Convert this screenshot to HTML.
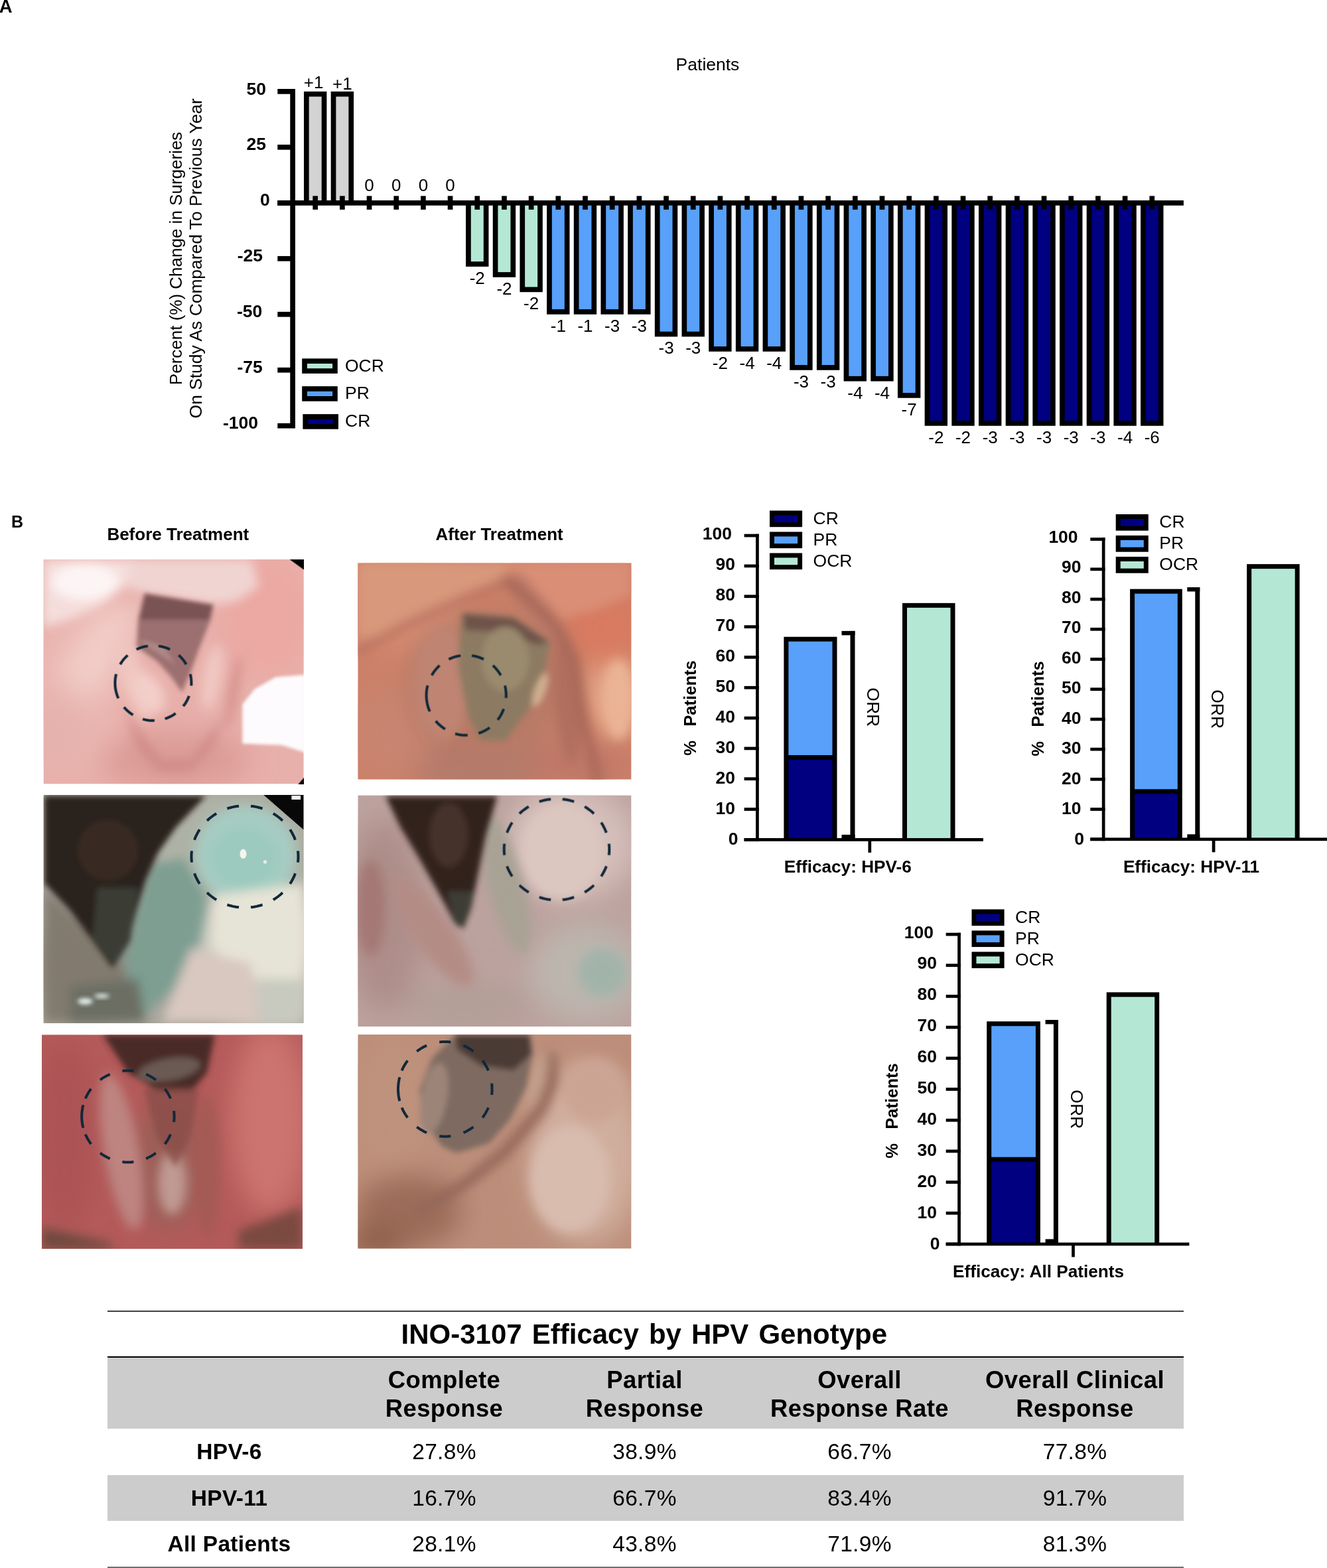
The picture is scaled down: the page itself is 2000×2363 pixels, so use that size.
<!DOCTYPE html>
<html><head><meta charset="utf-8"><style>
html,body{margin:0;padding:0;background:#fff;}
body{width:2000px;height:2363px;position:relative;overflow:hidden;font-family:"Liberation Sans", Arial, sans-serif;color:#000;}
svg{position:absolute;left:0;top:0;}
svg text{font-family:"Liberation Sans", Arial, sans-serif;fill:#000;}
.tl{position:absolute;left:162px;width:1622px;}
.tg{position:absolute;left:162px;width:1622px;background:#cccccc;}
.tt{position:absolute;font-weight:bold;font-size:42px;line-height:50px;white-space:nowrap;}
.th{position:absolute;width:400px;text-align:center;font-weight:bold;font-size:36.5px;line-height:43.7px;letter-spacing:0.4px;}
.td{position:absolute;width:400px;text-align:center;font-size:33.5px;line-height:69px;letter-spacing:0.3px;}
.td.b{font-weight:bold;}
</style></head><body>
<svg width="2000" height="2363" viewBox="0 0 2000 2363">
<defs>
<filter id="b2" x="-50%" y="-50%" width="200%" height="200%"><feGaussianBlur stdDeviation="2"/></filter>
<filter id="b3" x="-50%" y="-50%" width="200%" height="200%"><feGaussianBlur stdDeviation="3"/></filter>
<filter id="b4" x="-50%" y="-50%" width="200%" height="200%"><feGaussianBlur stdDeviation="4"/></filter>
<filter id="b5" x="-50%" y="-50%" width="200%" height="200%"><feGaussianBlur stdDeviation="5"/></filter>
<filter id="b8" x="-50%" y="-50%" width="200%" height="200%"><feGaussianBlur stdDeviation="8"/></filter>
<filter id="b12" x="-50%" y="-50%" width="200%" height="200%"><feGaussianBlur stdDeviation="12"/></filter>
<filter id="b20" x="-50%" y="-50%" width="200%" height="200%"><feGaussianBlur stdDeviation="20"/></filter>
<filter id="b30" x="-50%" y="-50%" width="200%" height="200%"><feGaussianBlur stdDeviation="30"/></filter>
<clipPath id="c0"><rect x="0" y="0" width="392.1" height="338.1"/></clipPath>
<clipPath id="c1"><rect x="0" y="0" width="412.0" height="326.2"/></clipPath>
<clipPath id="c2"><rect x="0" y="0" width="392.1" height="344.0"/></clipPath>
<clipPath id="c3"><rect x="0" y="0" width="412.0" height="348.6"/></clipPath>
<clipPath id="c4"><rect x="0" y="0" width="393.0" height="322.7"/></clipPath>
<clipPath id="c5"><rect x="0" y="0" width="412.0" height="322.3"/></clipPath>
</defs>
<g transform="translate(65.5,843.1)"><g clip-path="url(#c0)">
<rect x="0" y="0" width="400" height="400" fill="#e8b0ab"/>
<g filter="url(#b20)">
<ellipse cx="51.5" cy="177.2" rx="68.4" ry="136.7" fill="#eab6b0" />
<ellipse cx="336.3" cy="86.1" rx="68.4" ry="91.2" fill="#eca8a2" />
<ellipse cx="199.6" cy="302.6" rx="113.9" ry="45.6" fill="#dc9c97" />
<ellipse cx="81.1" cy="143.0" rx="38.7" ry="95.7" fill="#f2ccc8" transform="rotate(35 81.1 143.0)" />
<ellipse cx="28.7" cy="257.0" rx="34.2" ry="68.4" fill="#e6b2ad" />
</g>
<g filter="url(#b8)">
<polygon points="-0.9,-0.5 158.6,-0.5 122.1,40.5 85.7,70.1 40.1,90.6 -0.9,102.0" fill="#f4dedc" />
<ellipse cx="62.9" cy="33.6" rx="50.1" ry="27.3" fill="#fdf5f5" />
<polygon points="135.8,-0.5 313.6,-0.5 324.9,40.5 290.8,63.3 256.6,67.8 154.0,50.7 122.1,40.5" fill="#f0d4d2" />
<ellipse cx="254.3" cy="177.2" rx="13.7" ry="50.1" fill="#f0c8c2" transform="rotate(10 254.3 177.2)" />
<ellipse cx="286.2" cy="200.0" rx="6.8" ry="57.0" fill="#d68e8a" transform="rotate(10 286.2 200.0)" />
<ellipse cx="135.8" cy="181.8" rx="18.2" ry="63.8" fill="#f0c6c0" transform="rotate(-20 135.8 181.8)" />
<ellipse cx="158.6" cy="200.0" rx="20.5" ry="34.2" fill="#f3cdc8" transform="rotate(-30 158.6 200.0)" />
<polygon points="122.1,222.8 140.4,279.8 172.3,318.5 222.4,318.5 256.6,279.8 272.5,234.2 256.6,257.0 222.4,302.6 176.8,302.6 142.6,257.0" fill="#cf8a86" />
</g>
<g filter="url(#b3)">
<polygon points="151.7,50.7 256.6,67.8 252.0,90.6 233.8,136.2 222.4,168.1 208.7,200.0 192.8,177.2 172.3,154.4 140.4,131.6 142.6,90.6" fill="#9c7070" />
<polygon points="154.0,51.9 254.3,69.0 249.7,90.6 144.9,90.6" fill="#7a5355" />
<polygon points="142.6,122.5 172.3,140.8 199.6,159.0 181.4,131.6 154.0,122.5" fill="#b08a88" />
</g>
<g filter="url(#b2)">
<polygon points="299.9,277.5 299.9,218.2 318.1,195.4 350.0,177.2 395.6,173.8 395.6,291.2 359.1,279.8" fill="#fdfbfd" />
</g>
<polygon points="370.5,-0.5 395.6,-0.5 395.6,17.7" fill="#000" />
<polygon points="381.9,341.3 395.6,325.3 395.6,341.3" fill="#000" />
<path d="M112.9,209.3 L111.7,206.4 L110.6,203.5 L109.8,200.5 L109.0,197.4 L108.5,194.4 L108.1,191.3 L108.0,188.1 L107.9,185.0 L108.1,181.9 L108.4,178.8 L108.9,175.7 L109.6,172.7 M115.6,158.1 L117.2,155.6 L118.9,153.1 L120.7,150.8 L122.7,148.5 L124.8,146.4 L126.9,144.3 M140.2,135.5 L143.0,134.3 L145.8,133.2 L148.6,132.3 L151.5,131.5 L154.4,130.9 L157.4,130.4 M173.4,130.4 L176.4,130.9 L179.3,131.5 L182.2,132.3 L185.1,133.2 L187.9,134.3 L190.6,135.5 M203.9,144.3 L206.1,146.4 L208.2,148.5 L210.1,150.8 L211.9,153.1 L213.6,155.6 L215.2,158.1 M221.2,172.7 L221.9,175.6 L222.4,178.5 L222.7,181.4 L222.9,184.4 L222.9,187.3 L222.8,190.3 M219.5,205.7 L218.3,208.4 L217.1,211.1 L215.7,213.7 L214.2,216.3 L212.5,218.7 L210.7,221.1 M199.2,232.0 L196.7,233.7 L194.2,235.3 L191.5,236.7 L188.8,237.9 L186.0,239.1 L183.2,240.1 M167.4,242.8 L164.4,242.8 L161.4,242.7 L158.4,242.4 L155.4,242.0 L152.5,241.4 L149.6,240.6 M135.0,234.2 L132.4,232.6 L130.0,230.9 L127.7,229.0 L125.5,227.0 L123.4,224.9 L121.4,222.6" fill="none" stroke="#10283a" stroke-width="4.0" stroke-linecap="butt"/>
</g></g>
<g transform="translate(539.3,848.4)"><g clip-path="url(#c1)">
<rect x="0" y="0" width="420" height="400" fill="#cc8068"/>
<g filter="url(#b20)">
<ellipse cx="63.8" cy="59.7" rx="97.5" ry="73.1" fill="#d48c72" />
<ellipse cx="380.8" cy="193.8" rx="39.0" ry="63.4" fill="#e4a486" />
<ellipse cx="368.6" cy="96.3" rx="60.9" ry="60.9" fill="#d87a60" />
<ellipse cx="185.7" cy="303.5" rx="121.9" ry="48.8" fill="#b47a6a" />
<ellipse cx="51.6" cy="254.8" rx="60.9" ry="73.1" fill="#c88470" />
<ellipse cx="332.0" cy="303.5" rx="73.1" ry="36.6" fill="#c07868" />
<ellipse cx="197.9" cy="181.6" rx="121.9" ry="109.7" fill="#b87a66" />
</g>
<g filter="url(#b8)">
<polygon points="0.5,-1.2 234.5,-1.2 210.1,35.4 137.0,59.7 88.2,89.0 39.5,108.5 0.5,113.4" fill="#d8987c" />
<polygon points="222.3,-1.2 412.4,-1.2 412.4,47.5 356.4,71.9 307.6,84.1 271.1,59.7" fill="#da8e76" />
<polygon points="210.1,23.2 246.7,15.9 295.4,71.9 327.1,123.1 307.6,145.1 271.1,96.3" fill="#b87868" />
<ellipse cx="314.9" cy="206.0" rx="19.5" ry="97.5" fill="#b06e5e" transform="rotate(-5 314.9 206.0)" />
<ellipse cx="392.9" cy="206.0" rx="24.4" ry="60.9" fill="#eab494" />
<ellipse cx="127.2" cy="181.6" rx="43.9" ry="85.3" fill="#bf8472" />
<polyline points="0.5,132.9 76.0,91.4 161.3,52.4 222.3,28.0" fill="none" stroke="#b87060" stroke-width="11.0" stroke-linejoin="round" stroke-linecap="round" />
<polyline points="224.7,25.6 295.4,89.0 327.1,145.1 339.3,230.4 361.3,326.2" fill="none" stroke="#a86656" stroke-width="13.4" stroke-linejoin="round" stroke-linecap="round" />
</g>
<g filter="url(#b5)">
<polygon points="156.5,74.4 234.5,81.7 290.6,118.2 283.2,157.2 258.9,218.2 222.3,267.0 185.7,267.0 166.2,230.4 151.6,157.2" fill="#8c7a62" />
<polygon points="158.9,76.8 234.5,82.9 288.1,119.5 271.1,123.1 210.1,103.6 161.3,101.2" fill="#6e5248" />
<ellipse cx="274.7" cy="191.4" rx="8.5" ry="26.8" fill="#cfae90" transform="rotate(20 274.7 191.4)" />
<ellipse cx="222.3" cy="145.1" rx="36.6" ry="48.8" fill="#9a8a6e" />
</g>
<path d="M108.5,223.8 L107.2,220.7 L106.1,217.6 L105.2,214.4 L104.5,211.1 L103.9,207.9 L103.5,204.6 L103.3,201.2 L103.3,197.9 L103.5,194.6 L103.8,191.3 L104.4,188.0 L105.1,184.7 M111.4,169.2 L113.0,166.5 L114.8,163.9 L116.7,161.4 L118.7,159.0 L120.9,156.7 L123.2,154.5 M137.1,145.1 L139.9,143.8 L142.8,142.6 L145.8,141.6 L148.9,140.8 L151.9,140.1 L155.0,139.6 M171.8,139.6 L174.9,140.1 L177.9,140.8 L181.0,141.6 L184.0,142.6 L186.9,143.8 L189.7,145.1 M203.6,154.5 L205.9,156.7 L208.1,159.0 L210.1,161.4 L212.0,163.9 L213.8,166.5 L215.4,169.2 M221.7,184.7 L222.4,187.8 L222.9,190.9 L223.3,194.0 L223.5,197.2 L223.5,200.4 L223.4,203.5 M219.9,219.9 L218.7,222.9 L217.4,225.7 L216.0,228.5 L214.4,231.3 L212.6,233.9 L210.8,236.4 M198.7,248.1 L196.1,249.9 L193.5,251.5 L190.7,253.0 L187.8,254.4 L184.9,255.6 L182.0,256.6 M165.5,259.6 L162.4,259.6 L159.2,259.5 L156.1,259.2 L153.0,258.7 L149.9,258.1 L146.8,257.3 M131.6,250.4 L128.9,248.7 L126.4,246.8 L124.0,244.8 L121.7,242.7 L119.4,240.4 L117.4,238.1" fill="none" stroke="#10283a" stroke-width="4.0" stroke-linecap="butt"/>
</g></g>
<g transform="translate(65.5,1198.0)"><g clip-path="url(#c2)">
<rect x="0" y="0" width="400" height="400" fill="#a8a69c"/>
<g filter="url(#b20)">
<ellipse cx="324.9" cy="219.9" rx="91.2" ry="102.6" fill="#e2dcd0" />
<ellipse cx="336.3" cy="299.7" rx="68.4" ry="57.0" fill="#cfc8bc" />
<ellipse cx="62.9" cy="265.5" rx="68.4" ry="79.8" fill="#8c8478" />
<ellipse cx="188.2" cy="208.5" rx="45.6" ry="91.2" fill="#86a096" transform="rotate(30 188.2 208.5)" />
</g>
<g filter="url(#b8)">
<polygon points="176.8,1.1 331.8,1.1 391.0,51.3 391.0,128.7 336.3,162.9 245.2,162.9 199.6,128.7 165.4,83.2" fill="#aeb2a6" />
<ellipse cx="304.4" cy="90.0" rx="75.2" ry="72.9" fill="#a6ccc2" />
<ellipse cx="302.2" cy="94.6" rx="50.1" ry="45.6" fill="#9ccabe" />
<polygon points="158.6,105.9 211.0,94.6 245.2,151.5 233.8,219.9 199.6,288.3 154.0,329.3 122.1,276.9 135.8,197.1" fill="#7e9e92" />
<polygon points="1.3,140.1 85.7,219.9 122.1,265.5 149.5,333.8 1.3,343.0" fill="#827a6e" />
<polygon points="40.1,288.3 142.6,276.9 154.0,343.0 40.1,343.0" fill="#6c6e64" />
<polygon points="256.6,151.5 391.0,133.3 391.0,276.9 290.8,276.9 256.6,219.9" fill="#e6e4d6" />
<polygon points="222.4,231.3 313.6,254.1 324.9,343.0 176.8,343.0 199.6,288.3" fill="#d8c8c0" />
<polygon points="324.9,276.9 391.0,276.9 391.0,343.0 324.9,343.0" fill="#c8cac0" />
</g>
<g filter="url(#b4)">
<polygon points="1.3,1.1 245.2,1.1 199.6,49.0 172.3,87.7 154.0,128.7 140.4,174.3 129.0,219.9 108.4,254.1 103.9,260.9 74.3,219.9 40.1,174.3 1.3,133.3" fill="#2a221e" />
<polygon points="81.1,140.1 142.6,140.1 131.2,219.9 106.2,258.6 74.3,215.3" fill="#3a3c36" />
<ellipse cx="97.1" cy="83.2" rx="45.6" ry="45.6" fill="#382a24" transform="rotate(-30 97.1 83.2)" />
</g>
<polygon points="331.8,-0.0 392.2,-0.0 392.2,52.4" fill="#080808" />
<rect x="373.9" y="1.1" width="13.7" height="5.9" fill="#f2f2f2" />
<ellipse cx="301.0" cy="88.9" rx="5.0" ry="7.3" fill="#f4f4ee" />
<ellipse cx="334.1" cy="100.9" rx="2.7" ry="2.7" fill="#e8ece4" />
<ellipse cx="62.9" cy="311.1" rx="11.4" ry="4.6" fill="#e8f4f0" filter="url(#b3)"/>
<ellipse cx="87.9" cy="303.1" rx="11.4" ry="3.4" fill="#d8e8e2" filter="url(#b3)"/>
<path d="M383.5,84.4 L383.9,88.7 L384.0,93.0 L383.9,97.3 L383.5,101.6 M379.5,118.3 L377.9,122.4 L376.0,126.3 L373.9,130.2 L371.6,133.9 M360.4,147.3 L357.2,150.3 L353.7,153.0 L350.1,155.6 L346.3,158.0 M330.1,165.5 L325.8,166.8 L321.4,167.9 L317.0,168.7 L312.5,169.3 M294.5,169.3 L290.0,168.7 L285.6,167.9 L281.2,166.8 L276.9,165.5 M260.7,158.0 L256.9,155.6 L253.3,153.0 L249.8,150.3 L246.6,147.3 M235.4,133.9 L233.1,130.2 L231.0,126.3 L229.1,122.4 L227.5,118.3 M223.5,101.6 L223.1,97.3 L223.0,93.0 L223.1,88.7 L223.5,84.4 M227.5,67.7 L229.1,63.6 L231.0,59.7 L233.1,55.8 L235.4,52.1 M246.6,38.7 L249.8,35.7 L253.3,33.0 L256.9,30.4 L260.7,28.0 M276.9,20.5 L281.2,19.2 L285.6,18.1 L290.0,17.3 L294.5,16.7 M312.5,16.7 L317.0,17.3 L321.4,18.1 L325.8,19.2 L330.1,20.5 M346.3,28.0 L350.1,30.4 L353.7,33.0 L357.2,35.7 L360.4,38.7 M371.6,52.1 L373.9,55.8 L376.0,59.7 L377.9,63.6 L379.5,67.7" fill="none" stroke="#10283a" stroke-width="4.0" stroke-linecap="butt"/>
</g></g>
<g transform="translate(539.3,1198.4)"><g clip-path="url(#c3)">
<rect x="0" y="0" width="420" height="400" fill="#bca29e"/>
<g filter="url(#b20)">
<ellipse cx="39.5" cy="181.6" rx="60.9" ry="146.3" fill="#ae8e8a" />
<ellipse cx="319.8" cy="71.9" rx="97.5" ry="85.3" fill="#d6c0bb" />
<ellipse cx="344.2" cy="267.0" rx="85.3" ry="73.1" fill="#bcb6ae" />
<ellipse cx="161.3" cy="315.7" rx="97.5" ry="36.6" fill="#b49e98" />
</g>
<g filter="url(#b8)">
<ellipse cx="20.0" cy="169.4" rx="21.9" ry="73.1" fill="#a47874" />
<ellipse cx="222.3" cy="132.9" rx="26.8" ry="109.7" fill="#a8a294" transform="rotate(-15 222.3 132.9)" />
<ellipse cx="307.6" cy="84.1" rx="60.9" ry="73.1" fill="#dcc6c0" />
<ellipse cx="368.6" cy="267.0" rx="36.6" ry="36.6" fill="#a2b4aa" />
<ellipse cx="112.6" cy="206.0" rx="29.3" ry="97.5" fill="#b48c86" transform="rotate(-35 112.6 206.0)" />
</g>
<g filter="url(#b4)">
<polygon points="41.9,1.2 210.1,1.2 193.0,59.7 183.3,108.5 171.1,169.4 158.9,201.1 146.7,193.8 127.2,157.2 93.1,96.3 63.8,47.5" fill="#32201e" />
<ellipse cx="137.0" cy="59.7" rx="29.3" ry="48.8" fill="#44302c" />
<polygon points="134.5,145.1 176.0,145.1 168.7,176.8 158.9,201.1 146.7,193.8" fill="#3c3c34" />
</g>
<path d="M378.5,73.1 L378.9,77.4 L379.0,81.7 L378.9,86.0 L378.5,90.3 M374.6,106.9 L373.0,110.9 L371.1,114.8 L369.1,118.6 L366.8,122.3 M355.8,135.6 L352.6,138.6 L349.1,141.4 L345.6,143.9 L341.9,146.3 M325.9,153.7 L321.7,155.0 L317.3,156.1 L313.0,156.9 L308.5,157.5 M290.9,157.5 L286.4,156.9 L282.1,156.1 L277.7,155.0 L273.5,153.7 M257.5,146.3 L253.8,143.9 L250.3,141.4 L246.8,138.6 L243.6,135.6 M232.6,122.3 L230.3,118.6 L228.3,114.8 L226.4,110.9 L224.8,106.9 M220.9,90.3 L220.5,86.0 L220.4,81.7 L220.5,77.4 L220.9,73.1 M224.8,56.5 L226.4,52.5 L228.3,48.6 L230.3,44.8 L232.6,41.1 M243.6,27.8 L246.8,24.8 L250.3,22.0 L253.8,19.5 L257.5,17.1 M273.5,9.7 L277.7,8.4 L282.1,7.3 L286.4,6.5 L290.9,5.9 M308.5,5.9 L313.0,6.5 L317.3,7.3 L321.7,8.4 L325.9,9.7 M341.9,17.1 L345.6,19.5 L349.1,22.0 L352.6,24.8 L355.8,27.8 M366.8,41.1 L369.1,44.8 L371.1,48.6 L373.0,52.5 L374.6,56.5" fill="none" stroke="#10283a" stroke-width="4.0" stroke-linecap="butt"/>
</g></g>
<g transform="translate(63.0,1559.3)"><g clip-path="url(#c4)">
<rect x="0" y="0" width="400" height="400" fill="#b45a5a"/>
<g filter="url(#b20)">
<ellipse cx="344.1" cy="128.6" rx="59.5" ry="142.9" fill="#cc7470" />
<ellipse cx="34.6" cy="152.4" rx="47.6" ry="142.9" fill="#ac5254" />
<ellipse cx="189.4" cy="200.0" rx="59.5" ry="95.2" fill="#9c5e58" />
</g>
<g filter="url(#b8)">
<ellipse cx="120.3" cy="176.2" rx="26.2" ry="119.0" fill="#be8480" transform="rotate(-10 120.3 176.2)" />
<ellipse cx="196.5" cy="223.8" rx="21.4" ry="47.6" fill="#c09a92" />
<ellipse cx="248.9" cy="200.0" rx="19.0" ry="107.1" fill="#a45a54" />
<polygon points="0.1,290.5 106.0,314.3 106.0,323.8 0.1,323.8" fill="#6e4a3c" />
<polygon points="296.5,295.2 393.0,259.5 393.0,323.8 296.5,323.8" fill="#7a4a40" />
</g>
<g filter="url(#b5)">
<polygon points="91.8,-0.0 260.8,-0.0 248.9,57.1 225.1,85.7 177.5,85.7 129.9,57.1" fill="#4a2c28" />
<polygon points="153.7,80.9 237.0,80.9 225.1,152.4 201.3,200.0 172.7,152.4" fill="#8a4e48" opacity="0.8"/>
<ellipse cx="191.8" cy="52.4" rx="47.6" ry="16.7" fill="#6a5a52" transform="rotate(-10 191.8 52.4)" />
</g>
<path d="M121.4,54.6 L125.6,54.2 L129.9,54.1 L134.2,54.2 L138.4,54.6 M157.1,59.6 L161.0,61.4 L164.8,63.4 L168.4,65.6 L171.8,68.0 M185.6,81.6 L188.0,85.1 L190.3,88.7 L192.3,92.4 L194.1,96.2 M199.1,114.8 L199.5,119.0 L199.6,123.2 L199.5,127.4 L199.1,131.6 M194.1,150.2 L192.3,154.0 L190.3,157.8 L188.0,161.3 L185.6,164.8 M171.8,178.4 L168.4,180.8 L164.8,183.0 L161.0,185.0 L157.1,186.8 M138.4,191.8 L134.2,192.2 L129.9,192.3 L125.6,192.2 L121.4,191.8 M102.7,186.8 L98.8,185.0 L95.1,183.0 L91.4,180.8 L88.0,178.4 M74.2,164.8 L71.8,161.3 L69.5,157.8 L67.5,154.0 L65.7,150.2 M62.4,140.5 L61.5,136.7 L60.9,132.9 L60.4,129.0 L60.2,125.1 L60.2,121.3 L60.4,117.4 L60.9,113.5 L61.5,109.7 L62.4,105.9 M65.7,96.2 L67.5,92.4 L69.5,88.7 L71.8,85.1 L74.2,81.6 M88.0,68.0 L91.4,65.6 L95.1,63.4 L98.8,61.4 L102.7,59.6" fill="none" stroke="#10283a" stroke-width="4.0" stroke-linecap="butt"/>
</g></g>
<g transform="translate(539.3,1559.1)"><g clip-path="url(#c5)">
<rect x="0" y="0" width="420" height="400" fill="#bc8e7a"/>
<g filter="url(#b20)">
<ellipse cx="344.2" cy="180.9" rx="85.3" ry="134.1" fill="#d0ae9e" />
<ellipse cx="51.6" cy="107.8" rx="60.9" ry="109.7" fill="#be927c" />
<ellipse cx="76.0" cy="266.3" rx="80.4" ry="56.1" fill="#9c6c58" />
<ellipse cx="27.3" cy="315.0" rx="48.8" ry="24.4" fill="#8c5e4a" />
</g>
<g filter="url(#b8)">
<polyline points="290.6,34.7 293.0,71.2 275.9,112.7 222.3,176.1 161.3,224.8 93.1,266.3" fill="none" stroke="#94685a" stroke-width="17.1" stroke-linejoin="round" stroke-linecap="round" />
<ellipse cx="319.8" cy="217.5" rx="60.9" ry="80.4" fill="#d8bcae" />
<ellipse cx="356.4" cy="83.4" rx="48.8" ry="48.8" fill="#cca494" />
<ellipse cx="271.1" cy="66.3" rx="11.0" ry="41.4" fill="#c4a08c" transform="rotate(15 271.1 66.3)" />
</g>
<g filter="url(#b4)">
<polygon points="146.7,0.5 258.9,0.5 263.7,24.9 254.0,78.5 229.6,127.3 197.9,163.9 149.2,178.5 127.2,168.7 100.4,132.2 93.1,83.4 112.6,34.7 137.0,10.3" fill="#7e6a60" />
<polygon points="146.7,0.5 258.9,0.5 261.3,29.8 234.5,54.2 185.7,46.8 149.2,22.5" fill="#4c3a34" />
<ellipse cx="115.0" cy="95.6" rx="19.5" ry="53.6" fill="#9c8478" transform="rotate(10 115.0 95.6)" />
</g>
<path d="M122.9,11.3 L127.2,10.9 L131.5,10.8 L135.8,10.9 L140.1,11.3 M159.2,16.5 L163.1,18.3 L166.9,20.4 L170.6,22.7 L174.1,25.2 M188.0,39.2 L190.5,42.8 L192.8,46.5 L194.9,50.3 L196.7,54.3 M201.8,73.5 L202.2,77.8 L202.3,82.2 L202.2,86.6 L201.8,90.9 M196.7,110.1 L194.9,114.1 L192.8,117.9 L190.5,121.6 L188.0,125.2 M174.1,139.2 L170.6,141.7 L166.9,144.0 L163.1,146.1 L159.2,147.9 M140.1,153.1 L135.8,153.5 L131.5,153.6 L127.2,153.5 L122.9,153.1 M103.8,147.9 L99.9,146.1 L96.1,144.0 L92.4,141.7 L88.9,139.2 M75.0,125.2 L72.5,121.6 L70.2,117.9 L68.1,114.1 L66.3,110.1 M63.0,100.1 L62.1,96.2 L61.4,92.2 L61.0,88.2 L60.7,84.2 L60.7,80.2 L61.0,76.2 L61.4,72.2 L62.1,68.2 L63.0,64.3 M66.3,54.3 L68.1,50.3 L70.2,46.5 L72.5,42.8 L75.0,39.2 M88.9,25.2 L92.4,22.7 L96.1,20.4 L99.9,18.3 L103.8,16.5" fill="none" stroke="#10283a" stroke-width="4.0" stroke-linecap="butt"/>
</g></g>
<text x="-1.30" y="18.90" font-size="27.5" font-weight="bold" text-anchor="start" >A</text>
<text x="1066.50" y="106.00" font-size="26.5" font-weight="normal" text-anchor="middle" >Patients</text>
<rect x="458.00" y="137.91" width="34.40" height="167.94" fill="#000"/>
<rect x="465.70" y="145.61" width="19.00" height="160.24" fill="#d3d3d3"/>
<rect x="498.68" y="137.91" width="34.40" height="167.94" fill="#000"/>
<rect x="506.38" y="145.61" width="19.00" height="160.24" fill="#d3d3d3"/>
<rect x="702.08" y="305.85" width="34.40" height="95.96" fill="#000"/>
<rect x="709.78" y="305.85" width="19.00" height="88.26" fill="#b4e8d5"/>
<rect x="742.76" y="305.85" width="34.40" height="111.95" fill="#000"/>
<rect x="750.46" y="305.85" width="19.00" height="104.25" fill="#b4e8d5"/>
<rect x="783.44" y="305.85" width="34.40" height="134.35" fill="#000"/>
<rect x="791.14" y="305.85" width="19.00" height="126.65" fill="#b4e8d5"/>
<rect x="824.12" y="305.85" width="34.40" height="167.94" fill="#000"/>
<rect x="831.82" y="305.85" width="19.00" height="160.24" fill="#58a0fa"/>
<rect x="864.80" y="305.85" width="34.40" height="167.94" fill="#000"/>
<rect x="872.50" y="305.85" width="19.00" height="160.24" fill="#58a0fa"/>
<rect x="905.48" y="305.85" width="34.40" height="167.94" fill="#000"/>
<rect x="913.18" y="305.85" width="19.00" height="160.24" fill="#58a0fa"/>
<rect x="946.16" y="305.85" width="34.40" height="167.94" fill="#000"/>
<rect x="953.86" y="305.85" width="19.00" height="160.24" fill="#58a0fa"/>
<rect x="986.84" y="305.85" width="34.40" height="201.53" fill="#000"/>
<rect x="994.54" y="305.85" width="19.00" height="193.83" fill="#58a0fa"/>
<rect x="1027.52" y="305.85" width="34.40" height="201.53" fill="#000"/>
<rect x="1035.22" y="305.85" width="19.00" height="193.83" fill="#58a0fa"/>
<rect x="1068.20" y="305.85" width="34.40" height="223.93" fill="#000"/>
<rect x="1075.90" y="305.85" width="19.00" height="216.23" fill="#58a0fa"/>
<rect x="1108.88" y="305.85" width="34.40" height="223.93" fill="#000"/>
<rect x="1116.58" y="305.85" width="19.00" height="216.23" fill="#58a0fa"/>
<rect x="1149.56" y="305.85" width="34.40" height="223.93" fill="#000"/>
<rect x="1157.26" y="305.85" width="19.00" height="216.23" fill="#58a0fa"/>
<rect x="1190.24" y="305.85" width="34.40" height="251.91" fill="#000"/>
<rect x="1197.94" y="305.85" width="19.00" height="244.21" fill="#58a0fa"/>
<rect x="1230.92" y="305.85" width="34.40" height="251.91" fill="#000"/>
<rect x="1238.62" y="305.85" width="19.00" height="244.21" fill="#58a0fa"/>
<rect x="1271.60" y="305.85" width="34.40" height="268.70" fill="#000"/>
<rect x="1279.30" y="305.85" width="19.00" height="261.00" fill="#58a0fa"/>
<rect x="1312.28" y="305.85" width="34.40" height="268.70" fill="#000"/>
<rect x="1319.98" y="305.85" width="19.00" height="261.00" fill="#58a0fa"/>
<rect x="1352.96" y="305.85" width="34.40" height="293.89" fill="#000"/>
<rect x="1360.66" y="305.85" width="19.00" height="286.19" fill="#58a0fa"/>
<rect x="1393.64" y="305.85" width="34.40" height="335.88" fill="#000"/>
<rect x="1401.34" y="305.85" width="19.00" height="328.18" fill="#000080"/>
<rect x="1434.32" y="305.85" width="34.40" height="335.88" fill="#000"/>
<rect x="1442.02" y="305.85" width="19.00" height="328.18" fill="#000080"/>
<rect x="1475.00" y="305.85" width="34.40" height="335.88" fill="#000"/>
<rect x="1482.70" y="305.85" width="19.00" height="328.18" fill="#000080"/>
<rect x="1515.68" y="305.85" width="34.40" height="335.88" fill="#000"/>
<rect x="1523.38" y="305.85" width="19.00" height="328.18" fill="#000080"/>
<rect x="1556.36" y="305.85" width="34.40" height="335.88" fill="#000"/>
<rect x="1564.06" y="305.85" width="19.00" height="328.18" fill="#000080"/>
<rect x="1597.04" y="305.85" width="34.40" height="335.88" fill="#000"/>
<rect x="1604.74" y="305.85" width="19.00" height="328.18" fill="#000080"/>
<rect x="1637.72" y="305.85" width="34.40" height="335.88" fill="#000"/>
<rect x="1645.42" y="305.85" width="19.00" height="328.18" fill="#000080"/>
<rect x="1678.40" y="305.85" width="34.40" height="335.88" fill="#000"/>
<rect x="1686.10" y="305.85" width="19.00" height="328.18" fill="#000080"/>
<rect x="1719.08" y="305.85" width="34.40" height="335.88" fill="#000"/>
<rect x="1726.78" y="305.85" width="19.00" height="328.18" fill="#000080"/>
<rect x="437.30" y="134.00" width="7.70" height="510.90" fill="#000"/>
<rect x="418.30" y="134.00" width="26.70" height="7.70" fill="#000"/>
<rect x="418.30" y="217.97" width="26.70" height="7.70" fill="#000"/>
<rect x="418.30" y="301.94" width="26.70" height="7.70" fill="#000"/>
<rect x="418.30" y="385.91" width="26.70" height="7.70" fill="#000"/>
<rect x="418.30" y="469.88" width="26.70" height="7.70" fill="#000"/>
<rect x="418.30" y="553.85" width="26.70" height="7.70" fill="#000"/>
<rect x="418.30" y="637.82" width="26.70" height="7.70" fill="#000"/>
<rect x="418.30" y="302.00" width="1365.60" height="7.70" fill="#000"/>
<rect x="471.35" y="295.30" width="7.70" height="20.60" fill="#000"/>
<rect x="512.03" y="295.30" width="7.70" height="20.60" fill="#000"/>
<rect x="552.71" y="295.30" width="7.70" height="20.60" fill="#000"/>
<rect x="593.39" y="295.30" width="7.70" height="20.60" fill="#000"/>
<rect x="634.07" y="295.30" width="7.70" height="20.60" fill="#000"/>
<rect x="674.75" y="295.30" width="7.70" height="20.60" fill="#000"/>
<rect x="715.43" y="295.30" width="7.70" height="20.60" fill="#000"/>
<rect x="756.11" y="295.30" width="7.70" height="20.60" fill="#000"/>
<rect x="796.79" y="295.30" width="7.70" height="20.60" fill="#000"/>
<rect x="837.47" y="295.30" width="7.70" height="20.60" fill="#000"/>
<rect x="878.15" y="295.30" width="7.70" height="20.60" fill="#000"/>
<rect x="918.83" y="295.30" width="7.70" height="20.60" fill="#000"/>
<rect x="959.51" y="295.30" width="7.70" height="20.60" fill="#000"/>
<rect x="1000.19" y="295.30" width="7.70" height="20.60" fill="#000"/>
<rect x="1040.87" y="295.30" width="7.70" height="20.60" fill="#000"/>
<rect x="1081.55" y="295.30" width="7.70" height="20.60" fill="#000"/>
<rect x="1122.23" y="295.30" width="7.70" height="20.60" fill="#000"/>
<rect x="1162.91" y="295.30" width="7.70" height="20.60" fill="#000"/>
<rect x="1203.59" y="295.30" width="7.70" height="20.60" fill="#000"/>
<rect x="1244.27" y="295.30" width="7.70" height="20.60" fill="#000"/>
<rect x="1284.95" y="295.30" width="7.70" height="20.60" fill="#000"/>
<rect x="1325.63" y="295.30" width="7.70" height="20.60" fill="#000"/>
<rect x="1366.31" y="295.30" width="7.70" height="20.60" fill="#000"/>
<rect x="1406.99" y="295.30" width="7.70" height="20.60" fill="#000"/>
<rect x="1447.67" y="295.30" width="7.70" height="20.60" fill="#000"/>
<rect x="1488.35" y="295.30" width="7.70" height="20.60" fill="#000"/>
<rect x="1529.03" y="295.30" width="7.70" height="20.60" fill="#000"/>
<rect x="1569.71" y="295.30" width="7.70" height="20.60" fill="#000"/>
<rect x="1610.39" y="295.30" width="7.70" height="20.60" fill="#000"/>
<rect x="1651.07" y="295.30" width="7.70" height="20.60" fill="#000"/>
<rect x="1691.75" y="295.30" width="7.70" height="20.60" fill="#000"/>
<rect x="1732.43" y="295.30" width="7.70" height="20.60" fill="#000"/>
<text x="400.90" y="142.90" font-size="26.5" font-weight="bold" text-anchor="end" >50</text>
<text x="400.90" y="226.40" font-size="26.5" font-weight="bold" text-anchor="end" >25</text>
<text x="406.70" y="310.20" font-size="26.5" font-weight="bold" text-anchor="end" >0</text>
<text x="396.00" y="393.70" font-size="26.5" font-weight="bold" text-anchor="end" >-25</text>
<text x="395.30" y="477.70" font-size="26.5" font-weight="bold" text-anchor="end" >-50</text>
<text x="395.80" y="562.30" font-size="26.5" font-weight="bold" text-anchor="end" >-75</text>
<text x="389.00" y="646.00" font-size="26.5" font-weight="bold" text-anchor="end" >-100</text>
<text x="472.70" y="132.90" font-size="26" font-weight="normal" text-anchor="middle" >+1</text>
<text x="515.88" y="134.60" font-size="26" font-weight="normal" text-anchor="middle" >+1</text>
<text x="556.56" y="287.60" font-size="26" font-weight="normal" text-anchor="middle" >0</text>
<text x="597.24" y="287.60" font-size="26" font-weight="normal" text-anchor="middle" >0</text>
<text x="637.92" y="287.60" font-size="26" font-weight="normal" text-anchor="middle" >0</text>
<text x="678.60" y="287.60" font-size="26" font-weight="normal" text-anchor="middle" >0</text>
<text x="719.28" y="427.81" font-size="26" font-weight="normal" text-anchor="middle" >-2</text>
<text x="759.96" y="443.80" font-size="26" font-weight="normal" text-anchor="middle" >-2</text>
<text x="800.64" y="466.20" font-size="26" font-weight="normal" text-anchor="middle" >-2</text>
<text x="841.32" y="499.79" font-size="26" font-weight="normal" text-anchor="middle" >-1</text>
<text x="882.00" y="499.79" font-size="26" font-weight="normal" text-anchor="middle" >-1</text>
<text x="922.68" y="499.79" font-size="26" font-weight="normal" text-anchor="middle" >-3</text>
<text x="963.36" y="499.79" font-size="26" font-weight="normal" text-anchor="middle" >-3</text>
<text x="1004.04" y="533.38" font-size="26" font-weight="normal" text-anchor="middle" >-3</text>
<text x="1044.72" y="533.38" font-size="26" font-weight="normal" text-anchor="middle" >-3</text>
<text x="1085.40" y="555.78" font-size="26" font-weight="normal" text-anchor="middle" >-2</text>
<text x="1126.08" y="555.78" font-size="26" font-weight="normal" text-anchor="middle" >-4</text>
<text x="1166.76" y="555.78" font-size="26" font-weight="normal" text-anchor="middle" >-4</text>
<text x="1207.44" y="583.76" font-size="26" font-weight="normal" text-anchor="middle" >-3</text>
<text x="1248.12" y="583.76" font-size="26" font-weight="normal" text-anchor="middle" >-3</text>
<text x="1288.80" y="600.55" font-size="26" font-weight="normal" text-anchor="middle" >-4</text>
<text x="1329.48" y="600.55" font-size="26" font-weight="normal" text-anchor="middle" >-4</text>
<text x="1370.16" y="625.75" font-size="26" font-weight="normal" text-anchor="middle" >-7</text>
<text x="1410.84" y="667.73" font-size="26" font-weight="normal" text-anchor="middle" >-2</text>
<text x="1451.52" y="667.73" font-size="26" font-weight="normal" text-anchor="middle" >-2</text>
<text x="1492.20" y="667.73" font-size="26" font-weight="normal" text-anchor="middle" >-3</text>
<text x="1532.88" y="667.73" font-size="26" font-weight="normal" text-anchor="middle" >-3</text>
<text x="1573.56" y="667.73" font-size="26" font-weight="normal" text-anchor="middle" >-3</text>
<text x="1614.24" y="667.73" font-size="26" font-weight="normal" text-anchor="middle" >-3</text>
<text x="1654.92" y="667.73" font-size="26" font-weight="normal" text-anchor="middle" >-3</text>
<text x="1695.60" y="667.73" font-size="26" font-weight="normal" text-anchor="middle" >-4</text>
<text x="1736.28" y="667.73" font-size="26" font-weight="normal" text-anchor="middle" >-6</text>
<text transform="translate(274.4,389.4) rotate(-90)" font-size="26" text-anchor="middle">Percent (%) Change in Surgeries</text>
<text transform="translate(304.2,389.3) rotate(-90)" font-size="26.4" text-anchor="middle">On Study As Compared To Previous Year</text>
<rect x="455.20" y="540.30" width="53.60" height="22.60" fill="#000"/>
<rect x="462.90" y="548.00" width="38.20" height="7.20" fill="#b4e8d5"/>
<text x="520.00" y="559.50" font-size="26.5" font-weight="normal" text-anchor="start" >OCR</text>
<rect x="455.20" y="582.10" width="53.60" height="22.60" fill="#000"/>
<rect x="462.90" y="589.80" width="38.20" height="7.20" fill="#58a0fa"/>
<text x="520.00" y="601.30" font-size="26.5" font-weight="normal" text-anchor="start" >PR</text>
<rect x="456.40" y="624.10" width="53.60" height="22.60" fill="#000"/>
<rect x="464.10" y="631.80" width="38.20" height="7.20" fill="#000080"/>
<text x="520.00" y="643.30" font-size="26.5" font-weight="normal" text-anchor="start" >CR</text>
<text x="17.00" y="795.00" font-size="25" font-weight="bold" text-anchor="start" >B</text>
<text x="268.30" y="814.40" font-size="26" font-weight="bold" text-anchor="middle" >Before Treatment</text>
<text x="752.60" y="814.40" font-size="26" font-weight="bold" text-anchor="middle" >After Treatment</text>
<rect x="1181.40" y="959.71" width="80.10" height="305.69" fill="#000"/>
<rect x="1188.40" y="966.71" width="66.10" height="171.28" fill="#58a0fa"/>
<rect x="1188.40" y="1144.99" width="66.10" height="120.41" fill="#000080"/>
<rect x="1360.00" y="908.84" width="79.50" height="356.56" fill="#000"/>
<rect x="1367.00" y="915.84" width="65.50" height="349.56" fill="#b4e8d5"/>
<rect x="1268.50" y="950.90" width="20.00" height="6.40" fill="#000"/>
<rect x="1281.50" y="950.90" width="7.00" height="314.50" fill="#000"/>
<rect x="1268.50" y="1257.90" width="20.00" height="7.50" fill="#000"/>
<rect x="1139.10" y="804.75" width="4.70" height="463.00" fill="#000"/>
<rect x="1121.60" y="804.75" width="22.20" height="4.70" fill="#000"/>
<rect x="1121.60" y="850.58" width="22.20" height="4.70" fill="#000"/>
<rect x="1121.60" y="896.41" width="22.20" height="4.70" fill="#000"/>
<rect x="1121.60" y="942.24" width="22.20" height="4.70" fill="#000"/>
<rect x="1121.60" y="988.07" width="22.20" height="4.70" fill="#000"/>
<rect x="1121.60" y="1033.90" width="22.20" height="4.70" fill="#000"/>
<rect x="1121.60" y="1079.73" width="22.20" height="4.70" fill="#000"/>
<rect x="1121.60" y="1125.56" width="22.20" height="4.70" fill="#000"/>
<rect x="1121.60" y="1171.39" width="22.20" height="4.70" fill="#000"/>
<rect x="1121.60" y="1217.22" width="22.20" height="4.70" fill="#000"/>
<rect x="1121.60" y="1263.05" width="22.20" height="4.70" fill="#000"/>
<rect x="1121.60" y="1263.05" width="360.30" height="4.70" fill="#000"/>
<rect x="1308.45" y="1265.40" width="4.70" height="19.50" fill="#000"/>
<text x="1102.90" y="812.50" font-size="26.5" font-weight="bold" text-anchor="end" >100</text>
<text x="1107.90" y="858.59" font-size="26.5" font-weight="bold" text-anchor="end" >90</text>
<text x="1107.90" y="904.68" font-size="26.5" font-weight="bold" text-anchor="end" >80</text>
<text x="1107.90" y="950.77" font-size="26.5" font-weight="bold" text-anchor="end" >70</text>
<text x="1107.90" y="996.86" font-size="26.5" font-weight="bold" text-anchor="end" >60</text>
<text x="1107.90" y="1042.95" font-size="26.5" font-weight="bold" text-anchor="end" >50</text>
<text x="1107.90" y="1089.04" font-size="26.5" font-weight="bold" text-anchor="end" >40</text>
<text x="1107.90" y="1135.13" font-size="26.5" font-weight="bold" text-anchor="end" >30</text>
<text x="1107.90" y="1181.22" font-size="26.5" font-weight="bold" text-anchor="end" >20</text>
<text x="1107.90" y="1227.31" font-size="26.5" font-weight="bold" text-anchor="end" >10</text>
<text x="1112.40" y="1273.40" font-size="26.5" font-weight="bold" text-anchor="end" >0</text>
<rect x="1160.00" y="769.50" width="49.10" height="24.70" fill="#000"/>
<rect x="1167.00" y="776.50" width="35.10" height="10.70" fill="#000080"/>
<text x="1225.60" y="789.60" font-size="26.5" font-weight="normal" text-anchor="start" >CR</text>
<rect x="1160.00" y="801.50" width="49.10" height="24.70" fill="#000"/>
<rect x="1167.00" y="808.50" width="35.10" height="10.70" fill="#58a0fa"/>
<text x="1225.60" y="821.60" font-size="26.5" font-weight="normal" text-anchor="start" >PR</text>
<rect x="1160.00" y="833.50" width="49.10" height="24.70" fill="#000"/>
<rect x="1167.00" y="840.50" width="35.10" height="10.70" fill="#b4e8d5"/>
<text x="1225.60" y="853.60" font-size="26.5" font-weight="normal" text-anchor="start" >OCR</text>
<text transform="translate(1049.00,1067.00) rotate(-90)" font-size="25.6" font-weight="bold" text-anchor="middle" xml:space="preserve">%   Patients</text>
<text transform="translate(1306.60,1065.80) rotate(90)" font-size="26.5" text-anchor="middle">ORR</text>
<text x="1277.80" y="1314.70" font-size="26.2" font-weight="bold" text-anchor="middle" >Efficacy: HPV-6</text>
<rect x="1703.10" y="887.67" width="78.70" height="377.13" fill="#000"/>
<rect x="1710.10" y="894.67" width="64.70" height="294.62" fill="#58a0fa"/>
<rect x="1710.10" y="1196.28" width="64.70" height="68.52" fill="#000080"/>
<rect x="1879.20" y="850.13" width="79.50" height="414.67" fill="#000"/>
<rect x="1886.20" y="857.13" width="65.50" height="407.67" fill="#b4e8d5"/>
<rect x="1789.30" y="885.00" width="19.00" height="6.40" fill="#000"/>
<rect x="1801.30" y="885.00" width="7.00" height="379.80" fill="#000"/>
<rect x="1789.30" y="1257.30" width="19.00" height="7.50" fill="#000"/>
<rect x="1660.80" y="810.25" width="4.70" height="456.90" fill="#000"/>
<rect x="1643.30" y="810.25" width="22.20" height="4.70" fill="#000"/>
<rect x="1643.30" y="855.47" width="22.20" height="4.70" fill="#000"/>
<rect x="1643.30" y="900.69" width="22.20" height="4.70" fill="#000"/>
<rect x="1643.30" y="945.91" width="22.20" height="4.70" fill="#000"/>
<rect x="1643.30" y="991.13" width="22.20" height="4.70" fill="#000"/>
<rect x="1643.30" y="1036.35" width="22.20" height="4.70" fill="#000"/>
<rect x="1643.30" y="1081.57" width="22.20" height="4.70" fill="#000"/>
<rect x="1643.30" y="1126.79" width="22.20" height="4.70" fill="#000"/>
<rect x="1643.30" y="1172.01" width="22.20" height="4.70" fill="#000"/>
<rect x="1643.30" y="1217.23" width="22.20" height="4.70" fill="#000"/>
<rect x="1643.30" y="1262.45" width="22.20" height="4.70" fill="#000"/>
<rect x="1643.30" y="1262.45" width="356.70" height="4.70" fill="#000"/>
<rect x="1826.75" y="1264.80" width="4.70" height="19.50" fill="#000"/>
<text x="1624.60" y="818.00" font-size="26.5" font-weight="bold" text-anchor="end" >100</text>
<text x="1629.60" y="863.48" font-size="26.5" font-weight="bold" text-anchor="end" >90</text>
<text x="1629.60" y="908.96" font-size="26.5" font-weight="bold" text-anchor="end" >80</text>
<text x="1629.60" y="954.44" font-size="26.5" font-weight="bold" text-anchor="end" >70</text>
<text x="1629.60" y="999.92" font-size="26.5" font-weight="bold" text-anchor="end" >60</text>
<text x="1629.60" y="1045.40" font-size="26.5" font-weight="bold" text-anchor="end" >50</text>
<text x="1629.60" y="1090.88" font-size="26.5" font-weight="bold" text-anchor="end" >40</text>
<text x="1629.60" y="1136.36" font-size="26.5" font-weight="bold" text-anchor="end" >30</text>
<text x="1629.60" y="1181.84" font-size="26.5" font-weight="bold" text-anchor="end" >20</text>
<text x="1629.60" y="1227.32" font-size="26.5" font-weight="bold" text-anchor="end" >10</text>
<text x="1634.10" y="1272.80" font-size="26.5" font-weight="bold" text-anchor="end" >0</text>
<rect x="1681.70" y="775.00" width="49.10" height="24.70" fill="#000"/>
<rect x="1688.70" y="782.00" width="35.10" height="10.70" fill="#000080"/>
<text x="1747.30" y="795.10" font-size="26.5" font-weight="normal" text-anchor="start" >CR</text>
<rect x="1681.70" y="807.00" width="49.10" height="24.70" fill="#000"/>
<rect x="1688.70" y="814.00" width="35.10" height="10.70" fill="#58a0fa"/>
<text x="1747.30" y="827.10" font-size="26.5" font-weight="normal" text-anchor="start" >PR</text>
<rect x="1681.70" y="839.00" width="49.10" height="24.70" fill="#000"/>
<rect x="1688.70" y="846.00" width="35.10" height="10.70" fill="#b4e8d5"/>
<text x="1747.30" y="859.10" font-size="26.5" font-weight="normal" text-anchor="start" >OCR</text>
<text transform="translate(1573.00,1068.00) rotate(-90)" font-size="25.6" font-weight="bold" text-anchor="middle" xml:space="preserve">%   Patients</text>
<text transform="translate(1825.50,1068.60) rotate(90)" font-size="26.5" text-anchor="middle">ORR</text>
<text x="1795.50" y="1314.70" font-size="26.2" font-weight="bold" text-anchor="middle" >Efficacy: HPV-11</text>
<rect x="1487.20" y="1539.27" width="80.70" height="335.63" fill="#000"/>
<rect x="1494.20" y="1546.27" width="66.70" height="197.46" fill="#58a0fa"/>
<rect x="1494.20" y="1750.73" width="66.70" height="124.17" fill="#000080"/>
<rect x="1667.70" y="1495.39" width="79.50" height="379.51" fill="#000"/>
<rect x="1674.70" y="1502.39" width="65.50" height="372.51" fill="#b4e8d5"/>
<rect x="1575.60" y="1537.00" width="19.30" height="6.40" fill="#000"/>
<rect x="1587.90" y="1537.00" width="7.00" height="337.90" fill="#000"/>
<rect x="1575.60" y="1867.40" width="19.30" height="7.50" fill="#000"/>
<rect x="1443.20" y="1405.75" width="4.70" height="471.50" fill="#000"/>
<rect x="1425.70" y="1405.75" width="22.20" height="4.70" fill="#000"/>
<rect x="1425.70" y="1452.43" width="22.20" height="4.70" fill="#000"/>
<rect x="1425.70" y="1499.11" width="22.20" height="4.70" fill="#000"/>
<rect x="1425.70" y="1545.79" width="22.20" height="4.70" fill="#000"/>
<rect x="1425.70" y="1592.47" width="22.20" height="4.70" fill="#000"/>
<rect x="1425.70" y="1639.15" width="22.20" height="4.70" fill="#000"/>
<rect x="1425.70" y="1685.83" width="22.20" height="4.70" fill="#000"/>
<rect x="1425.70" y="1732.51" width="22.20" height="4.70" fill="#000"/>
<rect x="1425.70" y="1779.19" width="22.20" height="4.70" fill="#000"/>
<rect x="1425.70" y="1825.87" width="22.20" height="4.70" fill="#000"/>
<rect x="1425.70" y="1872.55" width="22.20" height="4.70" fill="#000"/>
<rect x="1425.70" y="1872.55" width="366.70" height="4.70" fill="#000"/>
<rect x="1615.15" y="1874.90" width="4.70" height="19.50" fill="#000"/>
<text x="1407.00" y="1413.50" font-size="26.5" font-weight="bold" text-anchor="end" >100</text>
<text x="1412.00" y="1460.44" font-size="26.5" font-weight="bold" text-anchor="end" >90</text>
<text x="1412.00" y="1507.38" font-size="26.5" font-weight="bold" text-anchor="end" >80</text>
<text x="1412.00" y="1554.32" font-size="26.5" font-weight="bold" text-anchor="end" >70</text>
<text x="1412.00" y="1601.26" font-size="26.5" font-weight="bold" text-anchor="end" >60</text>
<text x="1412.00" y="1648.20" font-size="26.5" font-weight="bold" text-anchor="end" >50</text>
<text x="1412.00" y="1695.14" font-size="26.5" font-weight="bold" text-anchor="end" >40</text>
<text x="1412.00" y="1742.08" font-size="26.5" font-weight="bold" text-anchor="end" >30</text>
<text x="1412.00" y="1789.02" font-size="26.5" font-weight="bold" text-anchor="end" >20</text>
<text x="1412.00" y="1835.96" font-size="26.5" font-weight="bold" text-anchor="end" >10</text>
<text x="1416.50" y="1882.90" font-size="26.5" font-weight="bold" text-anchor="end" >0</text>
<rect x="1464.50" y="1370.40" width="49.10" height="24.70" fill="#000"/>
<rect x="1471.50" y="1377.40" width="35.10" height="10.70" fill="#000080"/>
<text x="1530.10" y="1390.50" font-size="26.5" font-weight="normal" text-anchor="start" >CR</text>
<rect x="1464.50" y="1402.40" width="49.10" height="24.70" fill="#000"/>
<rect x="1471.50" y="1409.40" width="35.10" height="10.70" fill="#58a0fa"/>
<text x="1530.10" y="1422.50" font-size="26.5" font-weight="normal" text-anchor="start" >PR</text>
<rect x="1464.50" y="1434.40" width="49.10" height="24.70" fill="#000"/>
<rect x="1471.50" y="1441.40" width="35.10" height="10.70" fill="#b4e8d5"/>
<text x="1530.10" y="1454.50" font-size="26.5" font-weight="normal" text-anchor="start" >OCR</text>
<text transform="translate(1352.50,1674.00) rotate(-90)" font-size="25.6" font-weight="bold" text-anchor="middle" xml:space="preserve">%   Patients</text>
<text transform="translate(1613.90,1671.70) rotate(90)" font-size="26.5" text-anchor="middle">ORR</text>
<text x="1565.10" y="1925.00" font-size="26.2" font-weight="bold" text-anchor="middle" >Efficacy: All Patients</text>
</svg>

<div class="tl" style="top:1974.5px;height:2.5px;background:#404040"></div>
<div class="tt" style="left:604.6px;top:1986px;word-spacing:3.4px">INO-3107 Efficacy by HPV Genotype</div>
<div class="tl" style="top:2044px;height:2.2px;background:#000"></div>
<div class="tg" style="top:2046.2px;height:106.6px"></div>
<div class="tg" style="top:2222.8px;height:68.8px"></div>
<div class="tl" style="top:2360px;height:1.5px;background:#c2c2c2"></div>
<div class="tl" style="top:2361.5px;height:1.5px;background:#333"></div>
<div class="th" style="left:469.5px;top:2057.5px">Complete<br>Response</div>
<div class="th" style="left:771.5px;top:2057.5px">Partial<br>Response</div>
<div class="th" style="left:1095.5px;top:2057.5px">Overall<br>Response Rate</div>
<div class="th" style="left:1420px;top:2057.5px">Overall Clinical<br>Response</div>
<div class="td b" style="left:145.5px;top:2152.8px">HPV-6</div>
<div class="td" style="left:469.5px;top:2152.8px">27.8%</div>
<div class="td" style="left:771.5px;top:2152.8px">38.9%</div>
<div class="td" style="left:1095.5px;top:2152.8px">66.7%</div>
<div class="td" style="left:1420px;top:2152.8px">77.8%</div>
<div class="td b" style="left:145.5px;top:2222.8px">HPV-11</div>
<div class="td" style="left:469.5px;top:2222.8px">16.7%</div>
<div class="td" style="left:771.5px;top:2222.8px">66.7%</div>
<div class="td" style="left:1095.5px;top:2222.8px">83.4%</div>
<div class="td" style="left:1420px;top:2222.8px">91.7%</div>
<div class="td b" style="left:145.5px;top:2291.6px">All Patients</div>
<div class="td" style="left:469.5px;top:2291.6px">28.1%</div>
<div class="td" style="left:771.5px;top:2291.6px">43.8%</div>
<div class="td" style="left:1095.5px;top:2291.6px">71.9%</div>
<div class="td" style="left:1420px;top:2291.6px">81.3%</div>

</body></html>
